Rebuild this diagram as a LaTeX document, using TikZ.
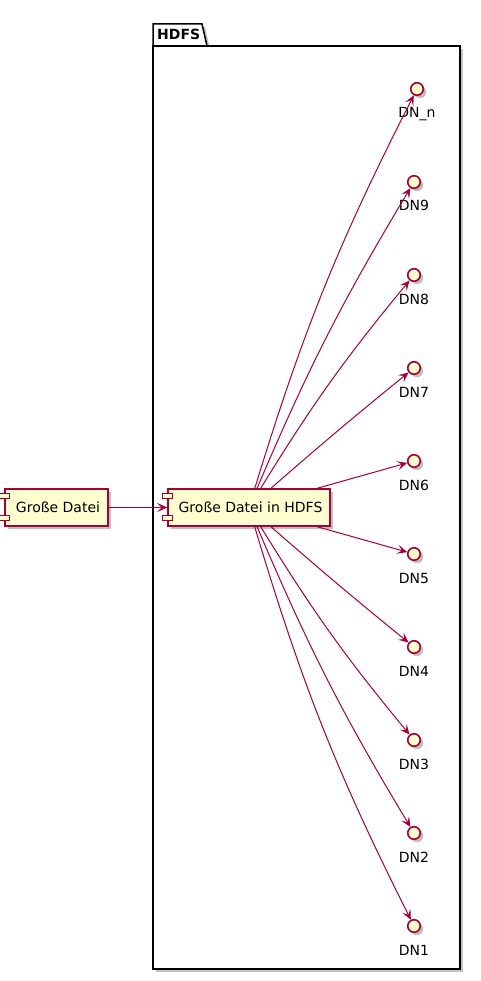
\documentclass[tikz,border=0pt]{standalone}
\usepackage{fontspec}
\setmainfont{DejaVu Sans}
\usetikzlibrary{shadows,arrows.meta,calc}
\definecolor{pfill}{HTML}{FEFECE}
\definecolor{pline}{HTML}{A80036}
\begin{document}
\begin{tikzpicture}[x=1pt,y=-1pt,
  shad/.style={drop shadow={shadow xshift=3pt,shadow yshift=-3pt,opacity=0.35,fill=black!70}},
  comp/.style={draw=pline,fill=pfill,line width=1.5pt,minimum height=37pt,inner sep=0pt,font=\fontsize{14}{16}\selectfont,shad},
  comprect/.style={draw=pline,fill=pfill,line width=1pt},
  iface/.style={circle,draw=pline,fill=pfill,line width=1.6pt,minimum size=12.5pt,inner sep=0pt,shad},
  dnlabel/.style={font=\fontsize{14}{16}\selectfont,anchor=base,inner sep=0pt},
  pkg/.style={draw=black,fill=white,line width=1.5pt,shad},
  link/.style={draw=pline,line width=1pt,-{Stealth[length=10pt,width=9pt,inset=4.5pt]}},
]
\useasboundingbox (0,0) rectangle (481,981);
\fill[white] (0,0) rectangle (481,981);

% package HDFS
\path[pkg] (153,46) -- (153,24) -- (202,24) -- (207,46) -- cycle;
\path[pkg] (153,46) rectangle (460,969);
\node[font=\bfseries\fontsize{14}{16}\selectfont,anchor=base west,inner sep=0pt] (pkglabel) at (157,40) {HDFS};

% components
\node[comp,minimum width=103pt] (gf) at (56.5,507.5) {\hspace{3pt}Große Datei};
\draw[comprect] ($(gf.north west)+(-5,5)$) rectangle ++(10,5);
\draw[comprect] ($(gf.south west)+(-5,-11)$) rectangle ++(10,5);

\node[comp,minimum width=162pt] (gfh) at (249,507.5) {\hspace{3pt}Große Datei in HDFS};
\draw[comprect] ($(gfh.north west)+(-5,5)$) rectangle ++(10,5);
\draw[comprect] ($(gfh.south west)+(-5,-11)$) rectangle ++(10,5);

% interfaces
\node[iface] (dnn) at (417,89) {};
\node[dnlabel] (ldnn) at (417,118) {DN\_n};
\node[iface] (dn9) at (414,182) {};
\node[dnlabel] (ldn9) at (414,211) {DN9};
\node[iface] (dn8) at (414,275) {};
\node[dnlabel] (ldn8) at (414,304) {DN8};
\node[iface] (dn7) at (414,368) {};
\node[dnlabel] (ldn7) at (414,397) {DN7};
\node[iface] (dn6) at (414,461) {};
\node[dnlabel] (ldn6) at (414,490) {DN6};
\node[iface] (dn5) at (414,554) {};
\node[dnlabel] (ldn5) at (414,583) {DN5};
\node[iface] (dn4) at (414,647) {};
\node[dnlabel] (ldn4) at (414,676) {DN4};
\node[iface] (dn3) at (414,740) {};
\node[dnlabel] (ldn3) at (414,769) {DN3};
\node[iface] (dn2) at (414,833) {};
\node[dnlabel] (ldn2) at (414,862) {DN2};
\node[iface] (dn1) at (414,926) {};
\node[dnlabel] (ldn1) at (414,955) {DN1};

% links
\draw[link] (gf) -- (gfh);
\draw[link] (gfh) to[bend left=5] (dnn);
\draw[link] (gfh) to[bend left=4] (dn9);
\draw[link] (gfh) to[bend left=4] (dn8);
\draw[link] (gfh) to[bend left=1] (dn7);
\draw[link] (gfh) -- (dn6);
\draw[link] (gfh) -- (dn5);
\draw[link] (gfh) to[bend right=1] (dn4);
\draw[link] (gfh) to[bend right=4] (dn3);
\draw[link] (gfh) to[bend right=4] (dn2);
\draw[link] (gfh) to[bend right=5] (dn1);
\end{tikzpicture}
\end{document}
